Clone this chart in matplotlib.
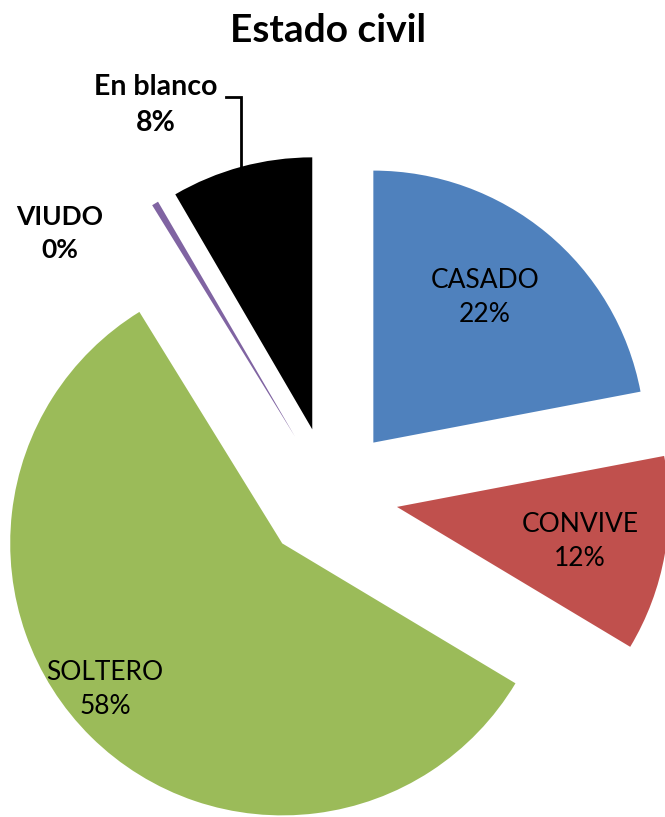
import matplotlib
matplotlib.use("Agg")
import matplotlib.pyplot as plt
import numpy as np

# data (share of respondents, %)
categories = ["CASADO", "CONVIVE", "SOLTERO", "VIUDO", "En blanco"]
values = [22.0, 11.6, 57.6, 0.4, 8.4]
colors = ["#4F81BD", "#C0504D", "#9BBB59", "#8064A2", "#000000"]

# label placement (figure pixels, y measured downwards), weight and size
label_pos = [(485, 297), (580, 542), (105, 689), (60, 233), (156, 105)]
label_bold = [False, False, False, True, True]
label_size = [19, 19, 19, 19, 20.5]

W, H = 665, 817
R = 272            # pie radius in pixels
CENTER = (330, 322)
EXPLODE = 68

plt.rcParams["font.family"] = ["Lato", "DejaVu Sans"]

fig = plt.figure(figsize=(W / 100, H / 100), dpi=100)
ax = fig.add_axes([0, 0, 1, 1])

wedges, _ = ax.pie(values, colors=colors, startangle=90, counterclock=False,
                   radius=R, center=CENTER, explode=[EXPLODE] * len(values),
                   wedgeprops=dict(linewidth=0))

ax.set_xlim(0, W)
ax.set_ylim(0, H)
ax.set_aspect("equal")
ax.axis("off")

total = sum(values)
for name, v, (px, py), bold, fs in zip(categories, values, label_pos, label_bold, label_size):
    ax.text(px, H - py, f"{name}\n{v / total * 100:.0f}%", ha="center", va="center",
            fontsize=fs, linespacing=1.45, color="black",
            fontweight="bold" if bold else "normal")

# leader line for "En blanco": from the label to the middle of its arc
w = wedges[4]
mid = np.deg2rad((w.theta1 + w.theta2) / 2)
ex = w.center[0] + R * np.cos(mid)
ey = w.center[1] + R * np.sin(mid)
ly = H - 97
ax.plot([226, ex, ex], [ly, ly, ey], color="black", lw=2, solid_joinstyle="miter")

ax.text(W / 2 - 4, H - 30, "Estado civil", ha="center", va="center",
        fontsize=28, fontweight="bold")

fig.savefig("out.png", dpi=100)
